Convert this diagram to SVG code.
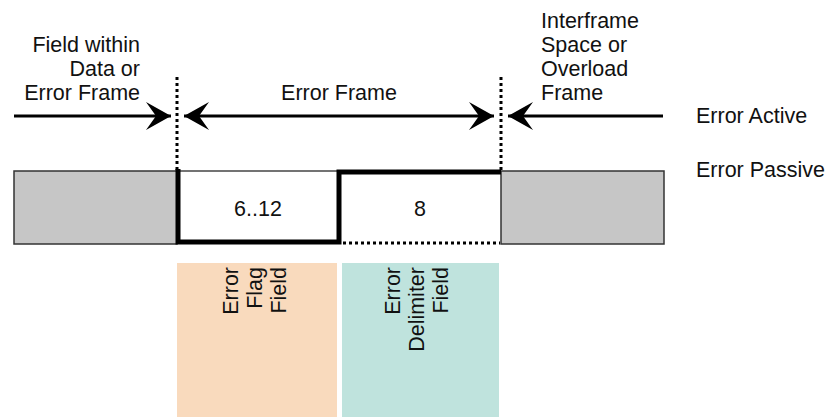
<svg xmlns="http://www.w3.org/2000/svg" width="831" height="417" viewBox="0 0 831 417">
  <defs>
    <style>
      .t { font-family: "Liberation Sans", Arial, sans-serif; font-size: 21.5px; fill: #111; }
      .r { text-anchor: end; }
      .m { text-anchor: middle; }
      .line { stroke: #000; stroke-width: 3; fill: none; }
      .dots { stroke: #000; stroke-width: 3; stroke-dasharray: 3 3; fill: none; }
      .gray { fill: #c6c6c6; stroke: #333; stroke-width: 1.5; }
      .thick { stroke: #000; stroke-width: 5; fill: none; stroke-linejoin: miter; }
    </style>
    <marker id="barb" viewBox="0 0 25 28" refX="25" refY="14" markerWidth="25" markerHeight="28" markerUnits="userSpaceOnUse" orient="auto-start-reverse">
      <path d="M25,14 L0,0 L10,14 L0,28 Z" fill="#000"/>
    </marker>
  </defs>

  <rect width="831" height="417" fill="#fff"/>

  <!-- lower field bands -->
  <g id="error-flag-field">
    <rect x="177" y="263" width="160" height="154" fill="#f9dabd"/>
    <text class="t r" transform="translate(238,267) rotate(-90)">Error</text>
    <text class="t r" transform="translate(262,267) rotate(-90)">Flag</text>
    <text class="t r" transform="translate(286,267) rotate(-90)">Field</text>
  </g>
  <g id="error-delimiter-field">
    <rect x="342" y="263" width="157" height="154" fill="#bfe3dd"/>
    <text class="t r" transform="translate(400,267) rotate(-90)">Error</text>
    <text class="t r" transform="translate(424,267) rotate(-90)">Delimiter</text>
    <text class="t r" transform="translate(448,267) rotate(-90)">Field</text>
  </g>

  <!-- bit-level row -->
  <g id="preceding-field">
    <rect class="gray" x="14" y="171" width="163" height="73"/>
  </g>
  <g id="following-field">
    <rect class="gray" x="501" y="171" width="163" height="73"/>
  </g>
  <g id="flag-bits">
    <line x1="178" y1="171" x2="339" y2="171" stroke="#444" stroke-width="1.5"/>
    <text class="t m" x="258" y="216">6..12</text>
  </g>
  <g id="delimiter-bits">
    <line class="dots" x1="343" y1="243" x2="500" y2="243"/>
    <text class="t m" x="420" y="216">8</text>
  </g>

  <!-- connectors: signal trace and frame extents -->
  <g id="connectors">
    <path class="thick" d="M178,169 V242 H339 V172 H501"/>
    <line class="dots" x1="177" y1="77" x2="177" y2="172"/>
    <line class="dots" x1="501" y1="77" x2="501" y2="172"/>
    <line class="line" x1="14" y1="116" x2="171" y2="116" marker-end="url(#barb)"/>
    <line class="line" x1="184" y1="116" x2="494" y2="116" marker-start="url(#barb)" marker-end="url(#barb)"/>
    <line class="line" x1="663" y1="116" x2="508" y2="116" marker-end="url(#barb)"/>
  </g>

  <!-- labels -->
  <g id="label-preceding">
    <text class="t r" x="140" y="52">Field within</text>
    <text class="t r" x="140" y="76">Data or</text>
    <text class="t r" x="140" y="100">Error Frame</text>
  </g>
  <g id="label-error-frame">
    <text class="t m" x="339" y="100">Error Frame</text>
  </g>
  <g id="label-following">
    <text class="t" x="541" y="28">Interframe</text>
    <text class="t" x="541" y="52">Space or</text>
    <text class="t" x="541" y="76">Overload</text>
    <text class="t" x="541" y="100">Frame</text>
  </g>
  <g id="label-levels">
    <text class="t" x="696" y="123">Error Active</text>
    <text class="t" x="696" y="177">Error Passive</text>
  </g>
</svg>
